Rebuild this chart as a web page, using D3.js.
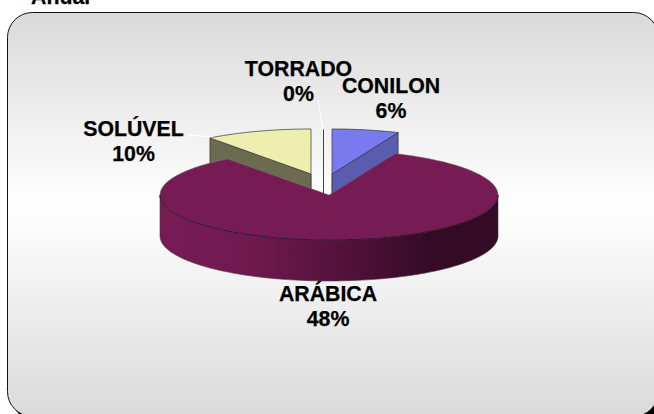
<!DOCTYPE html>
<html>
<head>
<meta charset="utf-8">
<script src="https://d3js.org/d3.v7.min.js"></script>
<style>
html, body { margin: 0; padding: 0; background: #fff; overflow: hidden; }
text { font-family: "Liberation Sans", Arial, sans-serif; font-weight: bold; fill: #000; stroke: #000; stroke-width: 0.25px; }
</style>
</head>
<body>
<script>
const categories = ["CONILON", "ARÁBICA", "SOLÚVEL", "TORRADO"];
// printed labels, they do not agree with the slice sizes in the picture
const percentLabels = ["6%", "48%", "10%", "0%"];
// share of the circle each slice really covers
const sliceShares = [6.4, 83.4, 10.2, 0];
const topColors = ["#7a7af0", "#771b55", "#eeeeb0", "#ffffff"];
const wallColors = ["#5a5cb0", "#771b55", "#6b6b4f", "#ffffff"];

const width = 654;
const height = 414;
const rx = 169;
const ry = 45;
const depth = 41;
const fontSize = "21.3px";

// where each exploded slice has its apex
const apex = {
    "CONILON": [332, 174],
    "ARÁBICA": [329, 195],
    "SOLÚVEL": [311, 174],
    "TORRADO": [323.5, 174]
};
const labelPos = {
    "CONILON": [391, 93],
    "ARÁBICA": [328, 301],
    "SOLÚVEL": [133.5, 136],
    "TORRADO": [298.5, 76]
};

const svg = d3.select("body")
    .append("svg")
    .attr("width", width)
    .attr("height", height)
    .style("display", "block");

const defs = svg.append("defs");

const bg = defs.append("linearGradient")
    .attr("id", "bg")
    .attr("x1", 0).attr("x2", 0).attr("y1", 0).attr("y2", 1);
bg.append("stop").attr("offset", "0%").attr("stop-color", "#dadada");
bg.append("stop").attr("offset", "48%").attr("stop-color", "#ffffff");
bg.append("stop").attr("offset", "100%").attr("stop-color", "#dadada");

const side = defs.append("linearGradient")
    .attr("id", "side")
    .attr("gradientUnits", "userSpaceOnUse")
    .attr("x1", 160).attr("x2", 498).attr("y1", 0).attr("y2", 0);
side.append("stop").attr("offset", "0%").attr("stop-color", "#771b55");
side.append("stop").attr("offset", "25%").attr("stop-color", "#701a50");
side.append("stop").attr("offset", "60%").attr("stop-color", "#4d1038");
side.append("stop").attr("offset", "80%").attr("stop-color", "#330b25");
side.append("stop").attr("offset", "100%").attr("stop-color", "#330b25");

// frame with its black shadow, runs off the right and bottom of the page
svg.append("rect")
    .attr("x", 12).attr("y", 17)
    .attr("width", 651).attr("height", 405)
    .attr("rx", 25)
    .attr("fill", "#000");
svg.append("rect")
    .attr("x", 7.5).attr("y", 12.5)
    .attr("width", 651).attr("height", 404)
    .attr("rx", 25)
    .attr("fill", "url(#bg)")
    .attr("stroke", "#111")
    .attr("stroke-width", 1);

// title is cut off by the top of the picture
svg.append("text")
    .attr("x", 31)
    .attr("y", 4)
    .style("font-size", fontSize)
    .text("Anual");

const pie = d3.pie().sort(null).value(d => d.share);
const slices = pie(categories.map((name, i) => ({
    name: name,
    share: sliceShares[i],
    label: percentLabels[i],
    top: topColors[i],
    wall: wallColors[i]
})));

// a pie angle on the tilted ellipse around a slice's apex
function project(c, a, drop) {
    return [c[0] + rx * Math.sin(a), c[1] - ry * Math.cos(a) + (drop || 0)];
}

function arcPoints(c, a0, a1, drop) {
    const n = Math.max(2, Math.ceil(Math.abs(a1 - a0) * 40));
    return d3.range(n + 1).map(i => project(c, a0 + (a1 - a0) * i / n, drop));
}

const line = d3.line();

function topFace(d) {
    const c = apex[d.data.name];
    return line([c].concat(arcPoints(c, d.startAngle, d.endAngle))) + "Z";
}

// the radial wall that faces the viewer
function radialWall(d, a) {
    const c = apex[d.data.name];
    const p = project(c, a);
    return line([c, p, [p[0], p[1] + depth], [c[0], c[1] + depth]]) + "Z";
}

const drawOrder = ["TORRADO", "SOLÚVEL", "CONILON", "ARÁBICA"];
const ordered = drawOrder.map(name => slices.find(d => d.data.name === name));

const pieG = svg.append("g");

ordered.forEach(d => {
    const g = pieG.append("g");
    const c = apex[d.data.name];

    if (d.data.name === "ARÁBICA") {
        // outer rim, front half of the ellipse only
        const front = arcPoints(c, Math.PI / 2, Math.PI * 1.5);
        const under = arcPoints(c, Math.PI * 1.5, Math.PI / 2, depth);
        g.append("path")
            .attr("d", line(front.concat(under)) + "Z")
            .attr("fill", "url(#side)")
            .attr("stroke", "#4a3a44")
            .attr("stroke-width", 0.6);
        g.append("path")
            .attr("d", topFace(d))
            .attr("fill", d.data.top)
            .attr("stroke", "#777")
            .attr("stroke-width", 0.5);
        g.append("path")
            .attr("d", line(front))
            .attr("fill", "none")
            .attr("stroke", "#2a0a20")
            .attr("stroke-width", 0.9);
    } else if (d.data.name === "TORRADO") {
        // zero slice, only its outline is left
        const p = project(c, d.startAngle);
        g.append("path")
            .attr("d", line([p, [p[0], p[1] + ry * 2 + depth]]))
            .attr("stroke", "#444")
            .attr("stroke-width", 1);
    } else {
        const wallAngle = d.data.name === "CONILON" ? d.endAngle : d.startAngle;
        g.append("path")
            .attr("d", radialWall(d, wallAngle))
            .attr("fill", d.data.wall)
            .attr("stroke", "#333")
            .attr("stroke-width", 0.7);
        g.append("path")
            .attr("d", line([c, [c[0], c[1] + depth]]))
            .attr("stroke", "#555")
            .attr("stroke-width", 0.8);
        g.append("path")
            .attr("d", topFace(d))
            .attr("fill", d.data.top)
            .attr("stroke", "#333")
            .attr("stroke-width", 0.7);
    }
});

// leader lines are white in the original
const leaders = [
    [[188, 135], [213, 137]],
    [[318, 100], [323, 130]]
];
svg.append("g")
    .selectAll("path")
    .data(leaders)
    .enter()
    .append("path")
    .attr("d", d => line(d))
    .attr("stroke", "#fff")
    .attr("stroke-width", 1);

const labels = svg.append("g")
    .selectAll("g")
    .data(slices)
    .enter()
    .append("g");

labels.append("text")
    .attr("x", d => labelPos[d.data.name][0])
    .attr("y", d => labelPos[d.data.name][1])
    .attr("text-anchor", "middle")
    .style("font-size", fontSize)
    .text(d => d.data.name);

labels.append("text")
    .attr("x", d => labelPos[d.data.name][0])
    .attr("y", d => labelPos[d.data.name][1] + 24.5)
    .attr("text-anchor", "middle")
    .style("font-size", fontSize)
    .text(d => d.data.label);
</script>
</body>
</html>
